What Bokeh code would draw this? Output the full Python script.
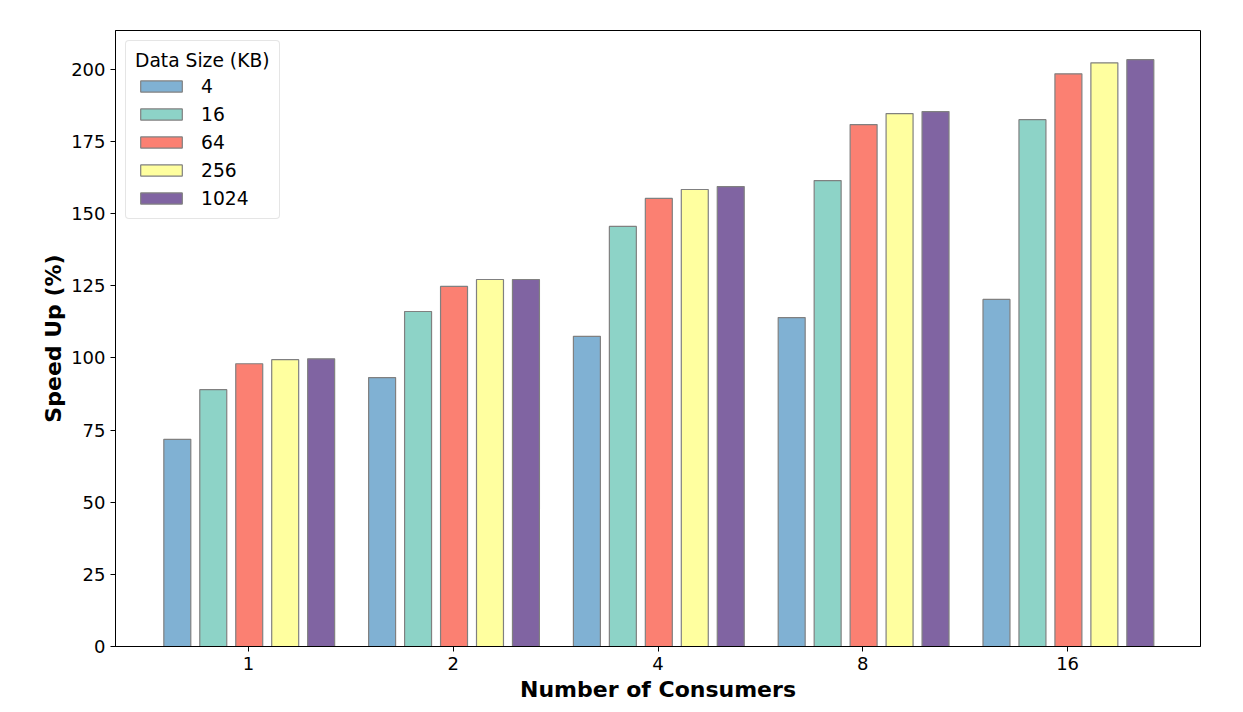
import numpy as np
from bokeh.plotting import figure
from bokeh.models import ColumnDataSource, FixedTicker, Range1d, Legend, LegendItem
from bokeh.embed import file_html
from bokeh.resources import INLINE

consumers = ["1", "2", "4", "8", "16"]
sizes = ["4", "16", "64", "256", "1024"]
speedup_4 = [71.8, 93.2, 107.5, 114.0, 120.3]
speedup_16 = [89.0, 116.1, 145.6, 161.5, 182.6]
speedup_64 = [98.0, 124.8, 155.3, 180.9, 198.5]
speedup_256 = [99.4, 127.2, 158.4, 184.7, 202.3]
speedup_1024 = [99.7, 127.2, 159.4, 185.4, 203.4]
series = [speedup_4, speedup_16, speedup_64, speedup_256, speedup_1024]
colors = ["#80b1d3", "#8dd3c7", "#fb8072", "#ffff9f", "#8064a2"]

FONT = "DejaVu Sans"

p = figure(frame_width=1085, frame_height=616, output_backend="svg",
           toolbar_location=None, min_border_left=115, min_border_top=30,
           min_border_right=27, min_border_bottom=50,
           x_range=Range1d(-0.649, 4.649), y_range=Range1d(0, 213.5))
p.xgrid.visible = False
p.ygrid.visible = False
p.outline_line_color = "black"
p.outline_line_width = 1
p.background_fill_color = "white"

slot = 0.1756
bw = 0.1317
base = np.arange(len(consumers))
items = []
for i, (vals, col, lab) in enumerate(zip(series, colors, sizes)):
    src = ColumnDataSource(dict(x=base + (i - 2) * slot + 0.004, top=vals))
    r = p.vbar(x="x", top="top", width=bw, bottom=0, source=src,
               fill_color=col, line_color="#808080", line_width=1.2)
    items.append(LegendItem(label=lab, renderers=[r]))

legend = Legend(items=items, title="Data Size (KB)", location="top_left",
                title_text_font=FONT, title_text_font_size="18.7px",
                title_text_font_style="normal", title_text_color="black",
                label_text_font=FONT, label_text_font_size="18.7px",
                label_text_color="black",
                glyph_width=52, glyph_height=14, label_height=22,
                spacing=6, padding=9, margin=10, title_standoff=4,
                label_standoff=14,
                border_line_color="#cccccc", border_line_width=1,
                background_fill_alpha=0.9)
try:
    legend.border_radius = 4
except Exception:
    pass
p.add_layout(legend, "center")

p.xaxis.ticker = FixedTicker(ticks=list(range(len(consumers))))
p.xaxis.major_label_overrides = {i: c for i, c in enumerate(consumers)}
p.yaxis.ticker = FixedTicker(ticks=list(range(0, 201, 25)))
for ax in (p.xaxis, p.yaxis):
    ax.major_label_text_font = FONT
    ax.major_label_text_font_size = "18px"
    ax.major_label_text_color = "black"
    ax.axis_label_text_font = FONT
    ax.axis_label_text_font_size = "22px"
    ax.axis_label_text_font_style = "bold"
    ax.axis_label_text_color = "black"
    ax.minor_tick_line_color = None
    ax.major_tick_out = 5
    ax.major_tick_in = 0
    ax.axis_line_color = "black"
    ax.major_tick_line_color = "black"
p.xaxis.axis_label = "Number of Consumers"
p.yaxis.axis_label = "Speed Up (%)"
p.xaxis.axis_label_standoff = 4
p.yaxis.axis_label_standoff = 2

open("out.html", "w").write(file_html(p, INLINE))
